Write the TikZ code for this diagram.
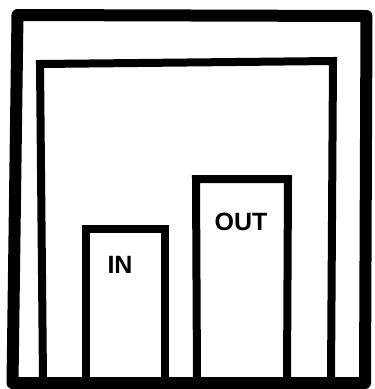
\documentclass[tikz,border=0pt]{standalone}
\usepackage{fontspec}
\setmainfont{Liberation Sans}
\begin{document}
\begin{tikzpicture}[x=1pt,y=-1pt,
  outerwall/.style={line width=12pt,line join=round,line cap=round},
  wall/.style={line width=8pt,line join=miter},
  lbl/.style={font=\fontsize{25}{25}\selectfont\bfseries,inner sep=0pt}]
\useasboundingbox (0,0) rectangle (375,389);
% outer box
\draw[outerwall] (17.5,15) -- (366.5,16) -- (365,383) -- (12.5,383) -- cycle;
% inner box (open at the bottom)
\coordinate (ibl) at (43,380);
\coordinate (itl) at (40,64);
\coordinate (itr) at (333,61);
\coordinate (ibr) at (331,380);
\draw[wall] (ibl) -- (itl) -- (itr) -- (ibr);
% IN box
\coordinate (inbl) at (86,380);
\coordinate (intl) at (86,229);
\coordinate (intr) at (165,229);
\coordinate (inbr) at (165,380);
\draw[wall] (inbl) -- (intl) -- (intr) -- (inbr);
\node[lbl] (in) at (120,265) {IN};
% OUT box
\coordinate (outbl) at (197,380);
\coordinate (outtl) at (196,179);
\coordinate (outtr) at (288,179);
\coordinate (outbr) at (287,380);
\draw[wall] (outbl) -- (outtl) -- (outtr) -- (outbr);
\node[lbl] (out) at (241,222) {OUT};
\end{tikzpicture}
\end{document}
